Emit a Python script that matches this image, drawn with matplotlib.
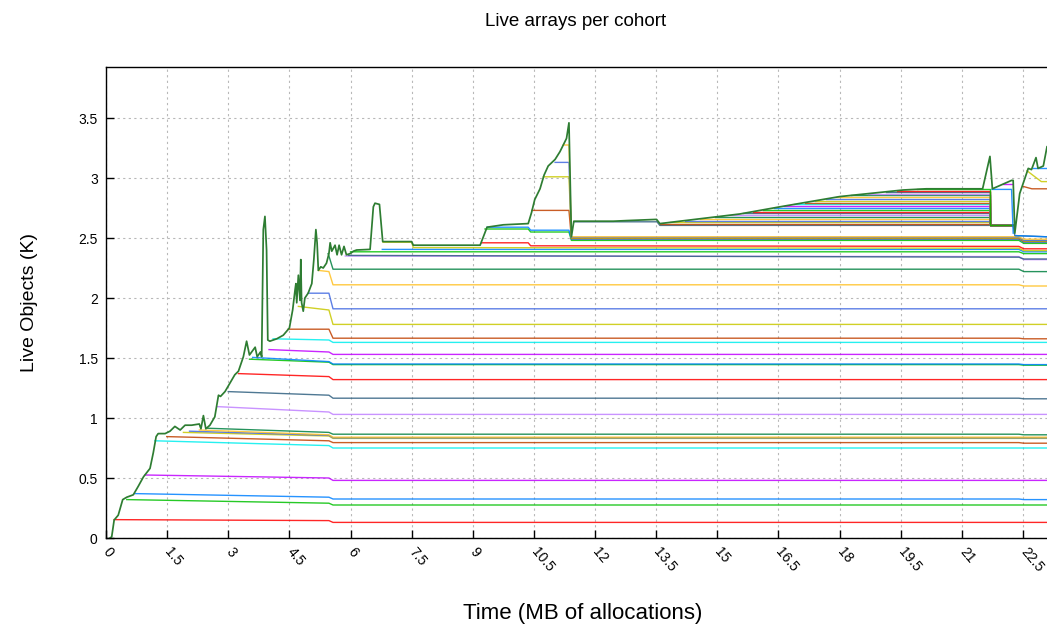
import matplotlib.pyplot as plt

plt.rcParams['font.family'] = ['Liberation Sans', 'DejaVu Sans']

# gnuplot-style line colours, cycled over the cohorts
palette = ['#ff0000', '#00c000', '#0080ff', '#c000ff', '#00eeee', '#c04000',
           '#c8c800', '#4169e1', '#ffc020', '#008040', '#c080ff', '#306080']

x_ticks = [0, 1.5, 3, 4.5, 6, 7.5, 9, 10.5, 12, 13.5, 15, 16.5, 18, 19.5, 21, 22.5]
x_labels = ['0', '1.5', '3', '4.5', '6', '7.5', '9', '10.5', '12', '13.5', '15',
            '16.5', '18', '19.5', '21', '22.5']
y_ticks = [0, 0.5, 1, 1.5, 2, 2.5, 3, 3.5]
y_labels = ['0', '0.5', '1', '1.5', '2', '2.5', '3', '3.5']

# total live arrays (K) against MB allocated
total_x = [0.10, 0.14, 0.20, 0.30, 0.41, 0.51, 0.67, 0.79, 0.92, 1.08, 1.16, 1.23, 1.28,
           1.45, 1.57, 1.69, 1.82, 1.94, 2.10, 2.29, 2.33, 2.39, 2.45, 2.55, 2.67, 2.76,
           2.81, 2.92, 3.04, 3.16, 3.25, 3.37, 3.45, 3.52, 3.66, 3.71, 3.79, 3.82, 3.86,
           3.90, 3.94, 3.97, 4.02, 4.19, 4.35, 4.50, 4.58, 4.64, 4.66, 4.68, 4.72, 4.76,
           4.78, 4.80, 4.84, 4.88, 4.96, 5.05, 5.10, 5.15, 5.18, 5.21, 5.27, 5.33, 5.41,
           5.47, 5.50, 5.54, 5.62, 5.67, 5.72, 5.78, 5.84, 5.90, 5.99, 6.07, 6.15, 6.48,
           6.56, 6.60, 6.71, 6.79, 7.50, 7.54, 9.18, 9.35, 9.75, 10.36, 10.44, 10.52,
           10.65, 10.75, 10.85, 11.02, 11.14, 11.22, 11.30, 11.36, 11.42, 11.48, 12.45,
           12.77, 13.51, 13.59, 15.55, 16.54, 18.00, 19.56, 20.13, 21.51, 21.69, 21.75,
           22.22, 22.26, 22.30, 22.42, 22.63, 22.71, 22.82, 22.87, 23.00, 23.09]
total_y = [0.00, 0.01, 0.15, 0.19, 0.32, 0.34, 0.36, 0.43, 0.51, 0.58, 0.71, 0.845, 0.87,
           0.87, 0.89, 0.93, 0.90, 0.94, 0.94, 0.95, 0.91, 1.02, 0.91, 0.94, 1.01, 1.19,
           1.18, 1.22, 1.29, 1.36, 1.39, 1.51, 1.64, 1.525, 1.59, 1.51, 1.55, 1.51, 2.57,
           2.68, 2.40, 1.65, 1.64, 1.66, 1.69, 1.75, 1.90, 2.07, 2.12, 1.96, 2.19, 1.98,
           2.32, 1.96, 1.89, 2.00, 2.04, 2.12, 2.32, 2.57, 2.46, 2.23, 2.26, 2.25, 2.29,
           2.37, 2.46, 2.39, 2.44, 2.36, 2.44, 2.36, 2.43, 2.36, 2.37, 2.39, 2.40, 2.405,
           2.76, 2.79, 2.78, 2.47, 2.47, 2.44, 2.44, 2.59, 2.61, 2.62, 2.71, 2.82,
           2.91, 3.025, 3.10, 3.155, 3.22, 3.275, 3.33, 3.46, 2.51, 2.64, 2.64,
           2.645, 2.655, 2.62, 2.70, 2.76, 2.845, 2.90, 2.91, 2.91, 3.18, 2.91,
           2.98, 2.98, 2.54, 2.87, 3.08, 3.07, 3.17, 3.08, 3.10, 3.26]

# early cohorts: birth, level at birth, level just before the 5.5 MB collection,
# level after it, level after the 22.4 MB collection
early_birth = [0.20, 0.51, 0.71, 0.96, 1.20, 1.49, 1.90, 2.05, 2.29, 2.47, 2.72, 3.00,
               3.25, 3.52, 3.60, 4.00, 4.10, 4.47, 4.72, 4.96, 5.21, 5.45, 5.87, 5.95]
early_start = [0.153, 0.32, 0.37, 0.525, 0.81, 0.845, 0.88, 0.89, 0.90, 0.915, 1.095, 1.22,
               1.37, 1.49, 1.505, 1.57, 1.66, 1.74, 1.93, 2.04, 2.23, 2.37, 2.35, 2.355]
early_before = [0.145, 0.29, 0.34, 0.50, 0.77, 0.81, 0.85, 0.855, 0.86, 0.88, 1.05, 1.19,
                1.345, 1.465, 1.47, 1.55, 1.65, 1.74, 1.90, 2.04, 2.22, 2.35, 2.35, 2.355]
early_after = [0.13, 0.275, 0.325, 0.48, 0.75, 0.795, 0.83, 0.835, 0.84, 0.865, 1.03, 1.165,
               1.32, 1.445, 1.45, 1.53, 1.63, 1.665, 1.78, 1.91, 2.11, 2.24, 2.345, 2.34]
early_end = [0.13, 0.275, 0.32, 0.48, 0.75, 0.79, 0.83, 0.835, 0.84, 0.86, 1.03, 1.16,
             1.32, 1.44, 1.445, 1.53, 1.63, 1.66, 1.78, 1.91, 2.10, 2.22, 2.32, 2.325]
gc_times = [5.47, 5.57, 22.40, 22.52, 23.10]

# cohorts born between 6 and 11.5 MB
mid_x = [[6.00, 22.40, 22.52, 23.10],
         [6.78, 22.40, 22.52, 23.10],
         [6.80, 7.50, 7.54, 22.40, 22.52, 23.10],
         [9.22, 10.36, 10.42, 22.40, 22.52, 23.10],
         [9.30, 10.36, 10.42, 11.36, 11.42, 22.40, 22.52, 23.10],
         [9.35, 10.36, 10.42, 11.36, 11.42, 22.40, 22.52, 23.10],
         [10.45, 11.36, 11.42, 22.40, 22.52, 23.10],
         [10.73, 11.36, 11.42, 22.40, 22.52, 23.10],
         [11.02, 11.36, 11.42, 22.40, 22.52, 23.10],
         [11.22, 11.36, 11.42, 22.40, 22.52, 23.10],
         [11.48, 13.52, 13.59, 22.26, 22.30, 23.10]]
mid_y = [[2.385, 2.385, 2.37, 2.37],
         [2.405, 2.405, 2.385, 2.385],
         [2.465, 2.465, 2.42, 2.415, 2.395, 2.395],
         [2.46, 2.46, 2.435, 2.43, 2.41, 2.41],
         [2.575, 2.575, 2.55, 2.55, 2.48, 2.48, 2.455, 2.455],
         [2.59, 2.59, 2.565, 2.565, 2.49, 2.49, 2.465, 2.465],
         [2.73, 2.73, 2.495, 2.495, 2.47, 2.47],
         [3.01, 3.01, 2.50, 2.50, 2.475, 2.475],
         [3.13, 3.13, 2.505, 2.505, 2.48, 2.48],
         [3.275, 3.275, 2.51, 2.51, 2.49, 2.49],
         [2.635, 2.635, 2.605, 2.605, 2.52, 2.51]]
mid_colors = ['#00c000', '#0080ff', '#c8c800', '#ff0000', '#00c000', '#0080ff',
              '#c04000', '#c8c800', '#4169e1', '#ffc020', '#306080']

# cohorts born during the slow climb, all released together at 21.69 MB
fan_birth = [13.59, 13.84, 14.20, 14.57, 14.94, 15.30, 15.63, 15.88, 16.13, 16.38, 16.63,
             16.88, 17.14, 17.40, 17.66, 17.91, 18.28, 18.71, 19.13, 19.42, 19.90]
fan_level = [2.615, 2.63, 2.645, 2.66, 2.675, 2.69, 2.705, 2.72, 2.735, 2.75, 2.765,
             2.78, 2.795, 2.81, 2.825, 2.84, 2.855, 2.87, 2.885, 2.895, 2.905]
fan_freed = 21.69
fan_floor = 2.61
fan_gone = 22.26

# cohorts born after the release
late_x = [[21.74, 22.22, 22.26],
          [22.00, 22.22],
          [22.32, 23.10],
          [22.50, 22.72, 23.10],
          [22.60, 22.95, 23.10],
          [22.75, 23.10]]
late_y = [[2.905, 2.905, 2.54],
          [2.95, 2.95],
          [2.52, 2.51],
          [2.93, 2.91, 2.91],
          [3.06, 2.97, 2.97],
          [3.08, 3.08]]
late_colors = ['#0080ff', '#c000ff', '#0080ff', '#c04000', '#c8c800', '#0080ff']


def early_line(i):
    levels = [early_before[i], early_after[i], early_after[i], early_end[i], early_end[i]]
    xs = [early_birth[i]]
    ys = [early_start[i]]
    for t, v in zip(gc_times, levels):
        if t > early_birth[i]:
            xs.append(t)
            ys.append(v)
    return xs, ys


fig = plt.figure(figsize=(10.47, 6.28), dpi=100)
ax = fig.add_axes([106 / 1047, 90 / 628, 941 / 1047, 471 / 628])

lw = 1.0
for i in range(len(early_birth)):
    xs, ys = early_line(i)
    ax.plot(xs, ys, color=palette[i % 12], lw=lw, alpha=0.85)

for xs, ys, c in zip(mid_x, mid_y, mid_colors):
    ax.plot(xs, ys, color=c, lw=lw, alpha=0.85)

for k, (b, lev) in enumerate(zip(fan_birth, fan_level)):
    ax.plot([b, fan_freed, fan_freed, fan_gone], [lev, lev, fan_floor, fan_floor],
            color=palette[(k + 5) % 12], lw=lw, alpha=0.85)

for xs, ys, c in zip(late_x, late_y, late_colors):
    ax.plot(xs, ys, color=c, lw=lw, alpha=0.85)

ax.plot(total_x, total_y, color='#2e7d32', lw=1.25)

ax.set_xlim(0, 23.09)
ax.set_ylim(0, 3.925)
ax.set_xticks(x_ticks)
ax.set_xticklabels(x_labels, rotation=-50, ha='left', va='center', rotation_mode='anchor',
                   fontsize=10)
ax.set_yticks(y_ticks)
ax.set_yticklabels(y_labels, fontsize=10)
ax.tick_params(direction='in', length=6, width=1)
ax.tick_params(axis='x', pad=8)
ax.tick_params(axis='y', pad=6)
ax.grid(True, color='#b8b8b8', linestyle=(0, (2, 3)), lw=0.8)
ax.set_axisbelow(True)
ax.spines['right'].set_visible(False)
for s in ['top', 'left', 'bottom']:
    ax.spines[s].set_linewidth(1.0)

fig.text(576 / 1047, 1 - 22 / 628, 'Live arrays per cohort', ha='center', va='center',
         fontsize=13.5)
fig.text(583 / 1047, 1 - 613 / 628, 'Time (MB of allocations)', ha='center', va='center',
         fontsize=16)
fig.text(30 / 1047, 1 - 302 / 628, 'Live Objects (K)', ha='center', va='center',
         rotation=90, fontsize=14)

fig.savefig('out.png', dpi=100)
